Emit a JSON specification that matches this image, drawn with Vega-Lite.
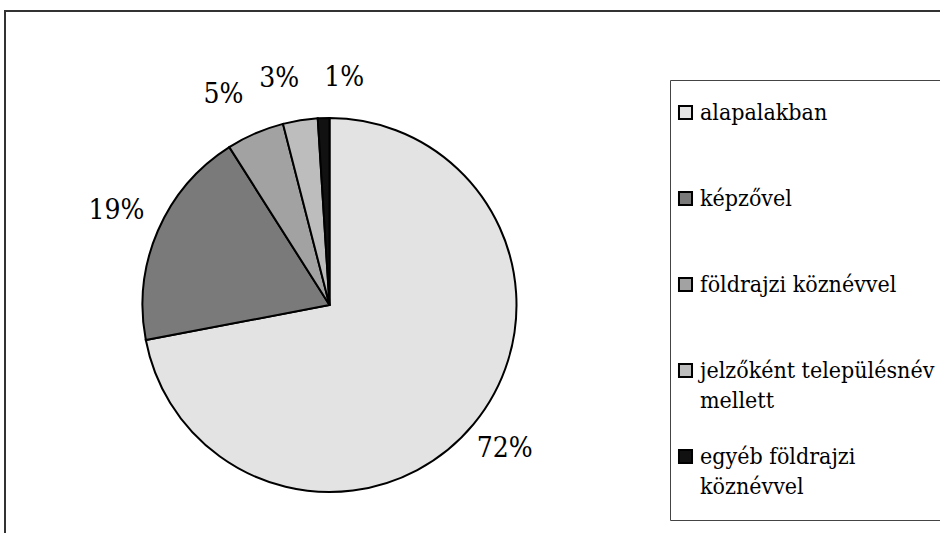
{
  "$schema": "https://vega.github.io/schema/vega-lite/v6.json",
  "autosize": {"type": "none"},
  "padding": {"left": 5, "top": 11, "right": -10, "bottom": -10},
  "width": 945,
  "height": 532,
  "background": "white",
  "view": {"stroke": "#333", "strokeWidth": 2, "fill": null},
  "config": {
    "font": "DejaVu Serif Condensed, DejaVu Serif, serif"
  },
  "data": {
    "values": [
      {"cat": "alapalakban", "share": 0.72, "idx": 1},
      {"cat": "képzővel", "share": 0.19, "idx": 2},
      {"cat": "földrajzi köznévvel", "share": 0.05, "idx": 3},
      {"cat": "jelzőként településnév mellett", "share": 0.03, "idx": 4},
      {"cat": "egyéb földrajzi köznévvel", "share": 0.01, "idx": 5}
    ]
  },
  "encoding": {
    "theta": {"field": "share", "type": "quantitative", "stack": true},
    "order": {"field": "idx", "type": "quantitative", "sort": "ascending"}
  },
  "layer": [
    {
      "mark": {"type": "arc", "radius": 187, "stroke": "black", "strokeWidth": 2, "xOffset": -148, "yOffset": 28},
      "encoding": {
        "color": {
          "field": "cat",
          "type": "nominal",
          "scale": {
            "domain": ["alapalakban", "képzővel", "földrajzi köznévvel", "jelzőként településnév mellett", "egyéb földrajzi köznévvel"],
            "range": ["#e3e3e3", "#7a7a7a", "#a2a2a2", "#bdbdbd", "#111111"]
          },
          "legend": {
            "title": null,
            "orient": "none",
            "legendX": 665,
            "legendY": 69,
            "padding": 21,
            "strokeColor": "#444",
            "fillColor": "white",
            "symbolType": "square",
            "symbolSize": 170,
            "symbolStrokeColor": "black",
            "symbolStrokeWidth": 2,
            "symbolOpacity": 1,
            "symbolOffset": -17,
            "labelFont": "DejaVu Serif Condensed, DejaVu Serif, serif",
            "labelFontSize": 23,
            "labelColor": "black",
            "labelLimit": 500,
            "labelOffset": 3,
            "rowPadding": 32,
            "gridAlign": "all",
            "labelExpr": "datum.label == 'jelzőként településnév mellett' ? ['jelzőként településnév', 'mellett'] : datum.label == 'egyéb földrajzi köznévvel' ? ['egyéb földrajzi', 'köznévvel'] : datum.label",
            "encode": {
              "labels": {"update": {"lineHeight": {"value": 30}}}
            }
          }
        }
      }
    },
    {
      "mark": {"type": "text", "radius": 230, "fontSize": 28, "font": "DejaVu Serif Condensed, DejaVu Serif, serif", "fill": "black", "xOffset": -150, "yOffset": 25},
      "encoding": {
        "detail": {"field": "cat", "type": "nominal"},
        "text": {"condition": {"test": "datum.share < 0.1", "value": ""}, "field": "share", "type": "quantitative", "format": ".0%"}
      }
    },
    {
      "mark": {"type": "text", "radius": 232, "fontSize": 28, "font": "DejaVu Serif Condensed, DejaVu Serif, serif", "fill": "black", "xOffset": -162, "yOffset": 31},
      "encoding": {
        "detail": {"field": "cat", "type": "nominal"},
        "text": {"condition": {"test": "datum.share < 0.02 || datum.share > 0.1", "value": ""}, "field": "share", "type": "quantitative", "format": ".0%"}
      }
    },
    {
      "mark": {"type": "text", "radius": 230, "fontSize": 28, "font": "DejaVu Serif Condensed, DejaVu Serif, serif", "fill": "black", "xOffset": -126, "yOffset": 31},
      "encoding": {
        "detail": {"field": "cat", "type": "nominal"},
        "text": {"condition": {"test": "datum.share > 0.02", "value": ""}, "field": "share", "type": "quantitative", "format": ".0%"}
      }
    }
  ]
}
